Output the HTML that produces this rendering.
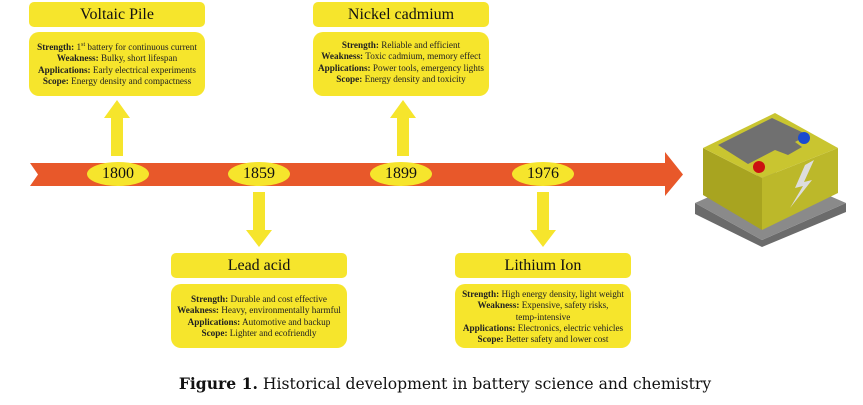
<!DOCTYPE html>
<html><head><meta charset="utf-8"><style>
body{margin:0;width:863px;height:405px;background:#fff;position:relative;overflow:hidden;font-family:"Liberation Serif",serif;}
.t{position:absolute;width:176px;height:25px;background:#f6e52c;border-radius:5px;text-align:center;font-size:16px;line-height:25px;color:#111;}
.b{position:absolute;width:176px;background:#f6e52c;border-radius:10px;text-align:center;font-size:9.2px;line-height:11.3px;color:#222;box-sizing:border-box;padding-top:8px;height:64px;white-space:nowrap;}
.b b{font-weight:bold;}
.o{position:absolute;width:62px;height:24px;border-radius:50%;background:#f6e52c;text-align:center;line-height:24px;font-size:16px;color:#111;}
.cap{position:absolute;top:374px;left:0;width:890px;text-align:center;font-size:15.6px;color:#111;font-family:"DejaVu Serif","Liberation Serif",serif;}
</style></head><body>
<svg width="863" height="405" style="position:absolute;left:0;top:0">
<polygon points="30,163 665,163 665,152 683,174.5 665,196 665,186 30,186 38,174.5" fill="#e8582a"/>
<g fill="#f6e52c">
<polygon points="111,156 111,118 104,118 117,100 130,118 123,118 123,156"/>
<polygon points="397,156 397,118 390,118 403,100 416,118 409,118 409,156"/>
<polygon points="253,192 253,230 246,230 259,247 272,230 265,230 265,192"/>
<polygon points="537,192 537,230 530,230 543,247 556,230 549,230 549,192"/>
</g>
<g>
<polygon points="695,203 762,240 846,203 846,212 762,247 695,214" fill="#6b6b6b"/>
<polygon points="695,203 770,170 846,203 762,240" fill="#8a8a8a"/>
<polygon points="703,148 703,195 762,230 762,178" fill="#a8a420"/>
<polygon points="762,178 762,230 838,193 838,148" fill="#bcb82a"/>
<polygon points="703,148 775,113 838,148 762,178" fill="#c9c530"/>
<polygon points="718,145 772,118 808,135 795,142 802,147 788,155 775,150 748,164" fill="#707070"/>
<circle cx="759" cy="167" r="6" fill="#cc1111"/>
<circle cx="804" cy="138" r="6" fill="#1a4bd0"/>
<polygon points="805,165 795,188 803,186 790,208 812,180 804,182 814,160" fill="#ddd"/>
</g>
</svg>
<div class="t" style="left:29px;top:2px">Voltaic Pile</div>
<div class="b" style="left:29px;top:32px"><b>Strength:</b> 1<sup style="font-size:6px">st</sup> battery for continuous current<br><b>Weakness:</b> Bulky, short lifespan<br><b>Applications:</b> Early electrical experiments<br><b>Scope:</b> Energy density and compactness</div>
<div class="t" style="left:313px;top:2px">Nickel cadmium</div>
<div class="b" style="left:313px;top:32px"><b>Strength:</b> Reliable and efficient<br><b>Weakness:</b> Toxic cadmium, memory effect<br><b>Applications:</b> Power tools, emergency lights<br><b>Scope:</b> Energy density and toxicity</div>
<div class="t" style="left:171px;top:253px">Lead acid</div>
<div class="b" style="left:171px;top:284px;padding-top:10px"><b>Strength:</b> Durable and cost effective<br><b>Weakness:</b> Heavy, environmentally harmful<br><b>Applications:</b> Automotive and backup<br><b>Scope:</b> Lighter and ecofriendly</div>
<div class="t" style="left:455px;top:253px">Lithium Ion</div>
<div class="b" style="left:455px;top:284px;padding-top:5px"><b>Strength:</b> High energy density, light weight<br><b>Weakness:</b> Expensive, safety risks,<br>temp-intensive<br><b>Applications:</b> Electronics, electric vehicles<br><b>Scope:</b> Better safety and lower cost</div>
<div class="o" style="left:87px;top:162px">1800</div>
<div class="o" style="left:228px;top:162px">1859</div>
<div class="o" style="left:370px;top:162px">1899</div>
<div class="o" style="left:512px;top:162px">1976</div>
<div class="cap"><b>Figure 1.</b> Historical development in battery science and chemistry</div>
</body></html>
